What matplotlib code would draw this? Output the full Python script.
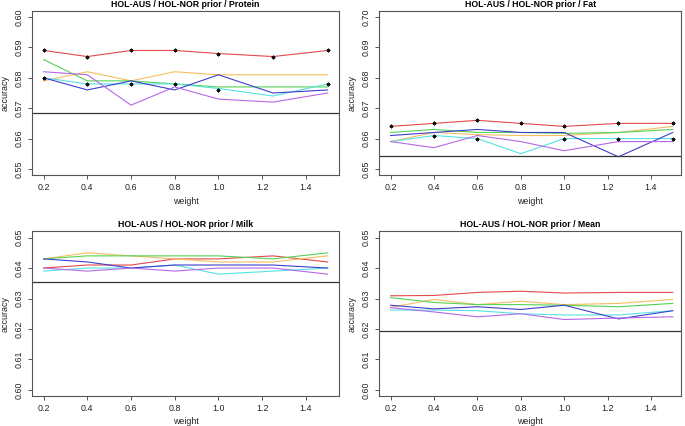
import matplotlib
matplotlib.use("Agg")
import matplotlib.pyplot as plt
import numpy as np

plt.rcParams['font.family'] = ['Liberation Sans', 'DejaVu Sans']

weights = [0.2, 0.4, 0.6, 0.8, 1.0, 1.25, 1.5]
xticks = [0.2, 0.4, 0.6, 0.8, 1.0, 1.2, 1.4]
series_colors = ["#E5484D", "#F5BE62", "#55D255", "#55E2E2", "#3F3FCC", "#B469E6"]

# Protein
protein_red    = [0.589, 0.587, 0.589, 0.589, 0.588, 0.587, 0.589]
protein_orange = [0.579, 0.582, 0.579, 0.582, 0.581, 0.581, 0.581]
protein_green  = [0.586, 0.579, 0.579, 0.578, 0.577, 0.577, 0.577]
protein_cyan   = [0.580, 0.578, 0.578, 0.578, 0.5765, 0.574, 0.578]
protein_blue   = [0.580, 0.576, 0.579, 0.576, 0.581, 0.575, 0.576]
protein_purple = [0.582, 0.581, 0.571, 0.577, 0.573, 0.572, 0.575]
protein_stars  = [0.580, 0.578, 0.578, 0.578, 0.576, np.nan, 0.578]
protein_base   = 0.5684

# Fat
fat_red    = [0.664, 0.665, 0.666, 0.665, 0.664, 0.665, 0.665]
fat_orange = [0.659, 0.662, 0.6613, 0.661, 0.661, 0.662, 0.664]
fat_green  = [0.662, 0.663, 0.662, 0.662, 0.6617, 0.662, 0.663]
fat_cyan   = [0.659, 0.661, 0.660, 0.655, 0.660, 0.660, 0.660]
fat_blue   = [0.661, 0.662, 0.663, 0.662, 0.662, 0.654, 0.662]
fat_purple = [0.659, 0.657, 0.661, 0.659, 0.656, 0.659, 0.659]
fat_stars  = [np.nan, 0.661, 0.660, np.nan, 0.660, 0.660, 0.660]
fat_base   = 0.6544

# Milk
milk_red    = [0.640, 0.641, 0.641, 0.643, 0.643, 0.644, 0.642]
milk_orange = [0.643, 0.645, 0.644, 0.643, 0.642, 0.642, 0.644]
milk_green  = [0.643, 0.644, 0.644, 0.644, 0.644, 0.643, 0.645]
milk_cyan   = [0.639, 0.640, 0.640, 0.641, 0.638, 0.639, 0.640]
milk_blue   = [0.643, 0.642, 0.640, 0.641, 0.641, 0.641, 0.640]
milk_purple = [0.640, 0.639, 0.640, 0.639, 0.640, 0.640, 0.638]
milk_base   = 0.6354

# Mean
mean_red    = [0.6309, 0.6310, 0.6320, 0.6324, 0.6318, 0.6320, 0.6320]
mean_orange = [0.6271, 0.6297, 0.6280, 0.6291, 0.6280, 0.6284, 0.6297]
mean_green  = [0.6303, 0.6287, 0.6280, 0.6280, 0.6278, 0.6273, 0.6284]
mean_cyan   = [0.6262, 0.6262, 0.6260, 0.6250, 0.6246, 0.6246, 0.6260]
mean_blue   = [0.6278, 0.6266, 0.6273, 0.6264, 0.6278, 0.6233, 0.6260]
mean_purple = [0.6270, 0.6256, 0.6240, 0.6250, 0.6231, 0.6236, 0.6240]
mean_base   = 0.6192

panels = [
    dict(title="HOL-AUS / HOL-NOR prior / Protein",
         series=[protein_red, protein_orange, protein_green, protein_cyan, protein_blue, protein_purple],
         stars=[protein_red, protein_stars], base=protein_base, ylim=(0.55, 0.60),
         box=(32.3, 339.0, 11.0, 175.0), xr=1.552),
    dict(title="HOL-AUS / HOL-NOR prior / Fat",
         series=[fat_red, fat_orange, fat_green, fat_cyan, fat_blue, fat_purple],
         stars=[fat_red, fat_stars], base=fat_base, ylim=(0.65, 0.70),
         box=(379.3, 681.0, 11.0, 175.0), xr=1.538),
    dict(title="HOL-AUS / HOL-NOR prior / Milk",
         series=[milk_red, milk_orange, milk_green, milk_cyan, milk_blue, milk_purple],
         stars=[], base=milk_base, ylim=(0.60, 0.65),
         box=(32.3, 339.0, 231.5, 396.0), xr=1.552),
    dict(title="HOL-AUS / HOL-NOR prior / Mean",
         series=[mean_red, mean_orange, mean_green, mean_cyan, mean_blue, mean_purple],
         stars=[], base=mean_base, ylim=(0.60, 0.65),
         box=(379.3, 681.0, 231.5, 396.0), xr=1.538),
]

W, H = 685, 426
fig = plt.figure(figsize=(W / 100, H / 100), dpi=100)
fs = 6.4
spine_col = "#555555"

for p in panels:
    l, r, t, b = p["box"]
    ax = fig.add_axes([l / W, 1 - b / H, (r - l) / W, (b - t) / H])
    for vals, c in zip(p["series"], series_colors):
        ax.plot(weights, vals, color=c, lw=0.8)
    for s in p["stars"]:
        ax.plot(weights, s, linestyle='none', marker=(8, 2, 0), color='#111111',
                markersize=2.6, markeredgewidth=0.7)
        ax.plot(weights, s, linestyle='none', marker='o', color='#111111',
                markersize=1.2, markeredgewidth=0)
    ax.axhline(p["base"], color="#333333", lw=0.9)
    y0, y1 = p["ylim"]
    pad = (y1 - y0) * 0.04
    ax.set_ylim(y0 - pad, y1 + pad)
    ax.set_xlim(0.148, p["xr"])
    ax.set_xticks(xticks)
    ax.set_xticklabels([f"{v:.1f}" for v in xticks], fontsize=fs, color="#222222")
    yt = np.round(np.arange(y0, y1 + 0.001, 0.01), 2)
    ax.set_yticks(yt)
    ax.set_yticklabels([f"{v:.2f}" for v in yt], fontsize=fs, rotation=90,
                       va='center', color="#222222")
    ax.tick_params(length=3, width=0.7, color=spine_col, pad=3)
    for sp in ax.spines.values():
        sp.set_color(spine_col)
        sp.set_linewidth(0.8)
    ax.set_xlabel("weight", fontsize=fs, labelpad=3, color="#222222")
    ax.set_ylabel("accuracy", fontsize=fs, labelpad=4, color="#222222")
    ax.set_title(p["title"], fontsize=6.3, fontweight='bold', pad=3)

fig.savefig("out.png", dpi=100)
